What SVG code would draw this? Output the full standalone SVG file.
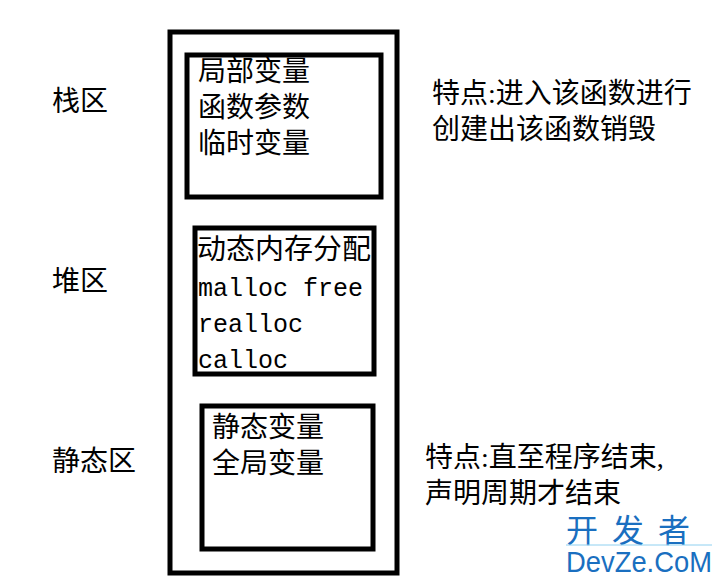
<svg xmlns="http://www.w3.org/2000/svg" width="722" height="581" viewBox="0 0 722 581">
<style>
.b{fill:none;stroke:#000;stroke-width:5}
.t{font-family:"Liberation Serif","Noto Sans CJK SC",serif;font-size:28px;fill:#000}
.m{font-family:"Liberation Mono","Noto Sans CJK SC",monospace;font-size:25px;fill:#000}
.w{font-family:"Liberation Sans","Noto Sans CJK SC",sans-serif;fill:#1a6fc0}
</style>
<rect width="722" height="581" fill="#fff"/>
<g id="memory"><rect class="b" x="170" y="32" width="227" height="541"/></g>
<g id="stack-box"><rect class="b" x="187" y="55" width="194" height="142"/>
<text class="t" x="198" y="81">局部变量</text><text class="t" x="198" y="117">函数参数</text><text class="t" x="198" y="153">临时变量</text></g>
<g id="heap-box"><rect class="b" x="195" y="228" width="179" height="146"/>
<text class="t" x="197" y="259" textLength="174" lengthAdjust="spacingAndGlyphs">动态内存分配</text><text class="m" x="198" y="296">malloc free</text><text class="m" x="198" y="332">realloc</text><text class="m" x="198" y="368">calloc</text></g>
<g id="static-box"><rect class="b" x="202" y="406" width="171" height="143"/>
<text class="t" x="212" y="437">静态变量</text><text class="t" x="212" y="473">全局变量</text></g>
<g id="labels">
<text class="t" x="52" y="111">栈区</text>
<text class="t" x="52" y="291">堆区</text>
<text class="t" x="52" y="471">静态区</text>
<text class="t" x="432" y="103">特点:进入该函数进行</text>
<text class="t" x="432" y="139">创建出该函数销毁</text>
<text class="t" x="425" y="467">特点:直至程序结束,</text>
<text class="t" x="425" y="503">声明周期才结束</text>
</g>
<g id="watermark">
<text class="w" x="566" y="542" font-size="32" letter-spacing="14">开发者</text>
<line x1="566" y1="545" x2="712" y2="545" stroke="#8fd0f0" stroke-width="1"/>
<text class="w" x="566" y="572" font-size="29" textLength="146" lengthAdjust="spacingAndGlyphs">DevZe.CoM</text>
</g>
<g id="connectors"/>
</svg>
